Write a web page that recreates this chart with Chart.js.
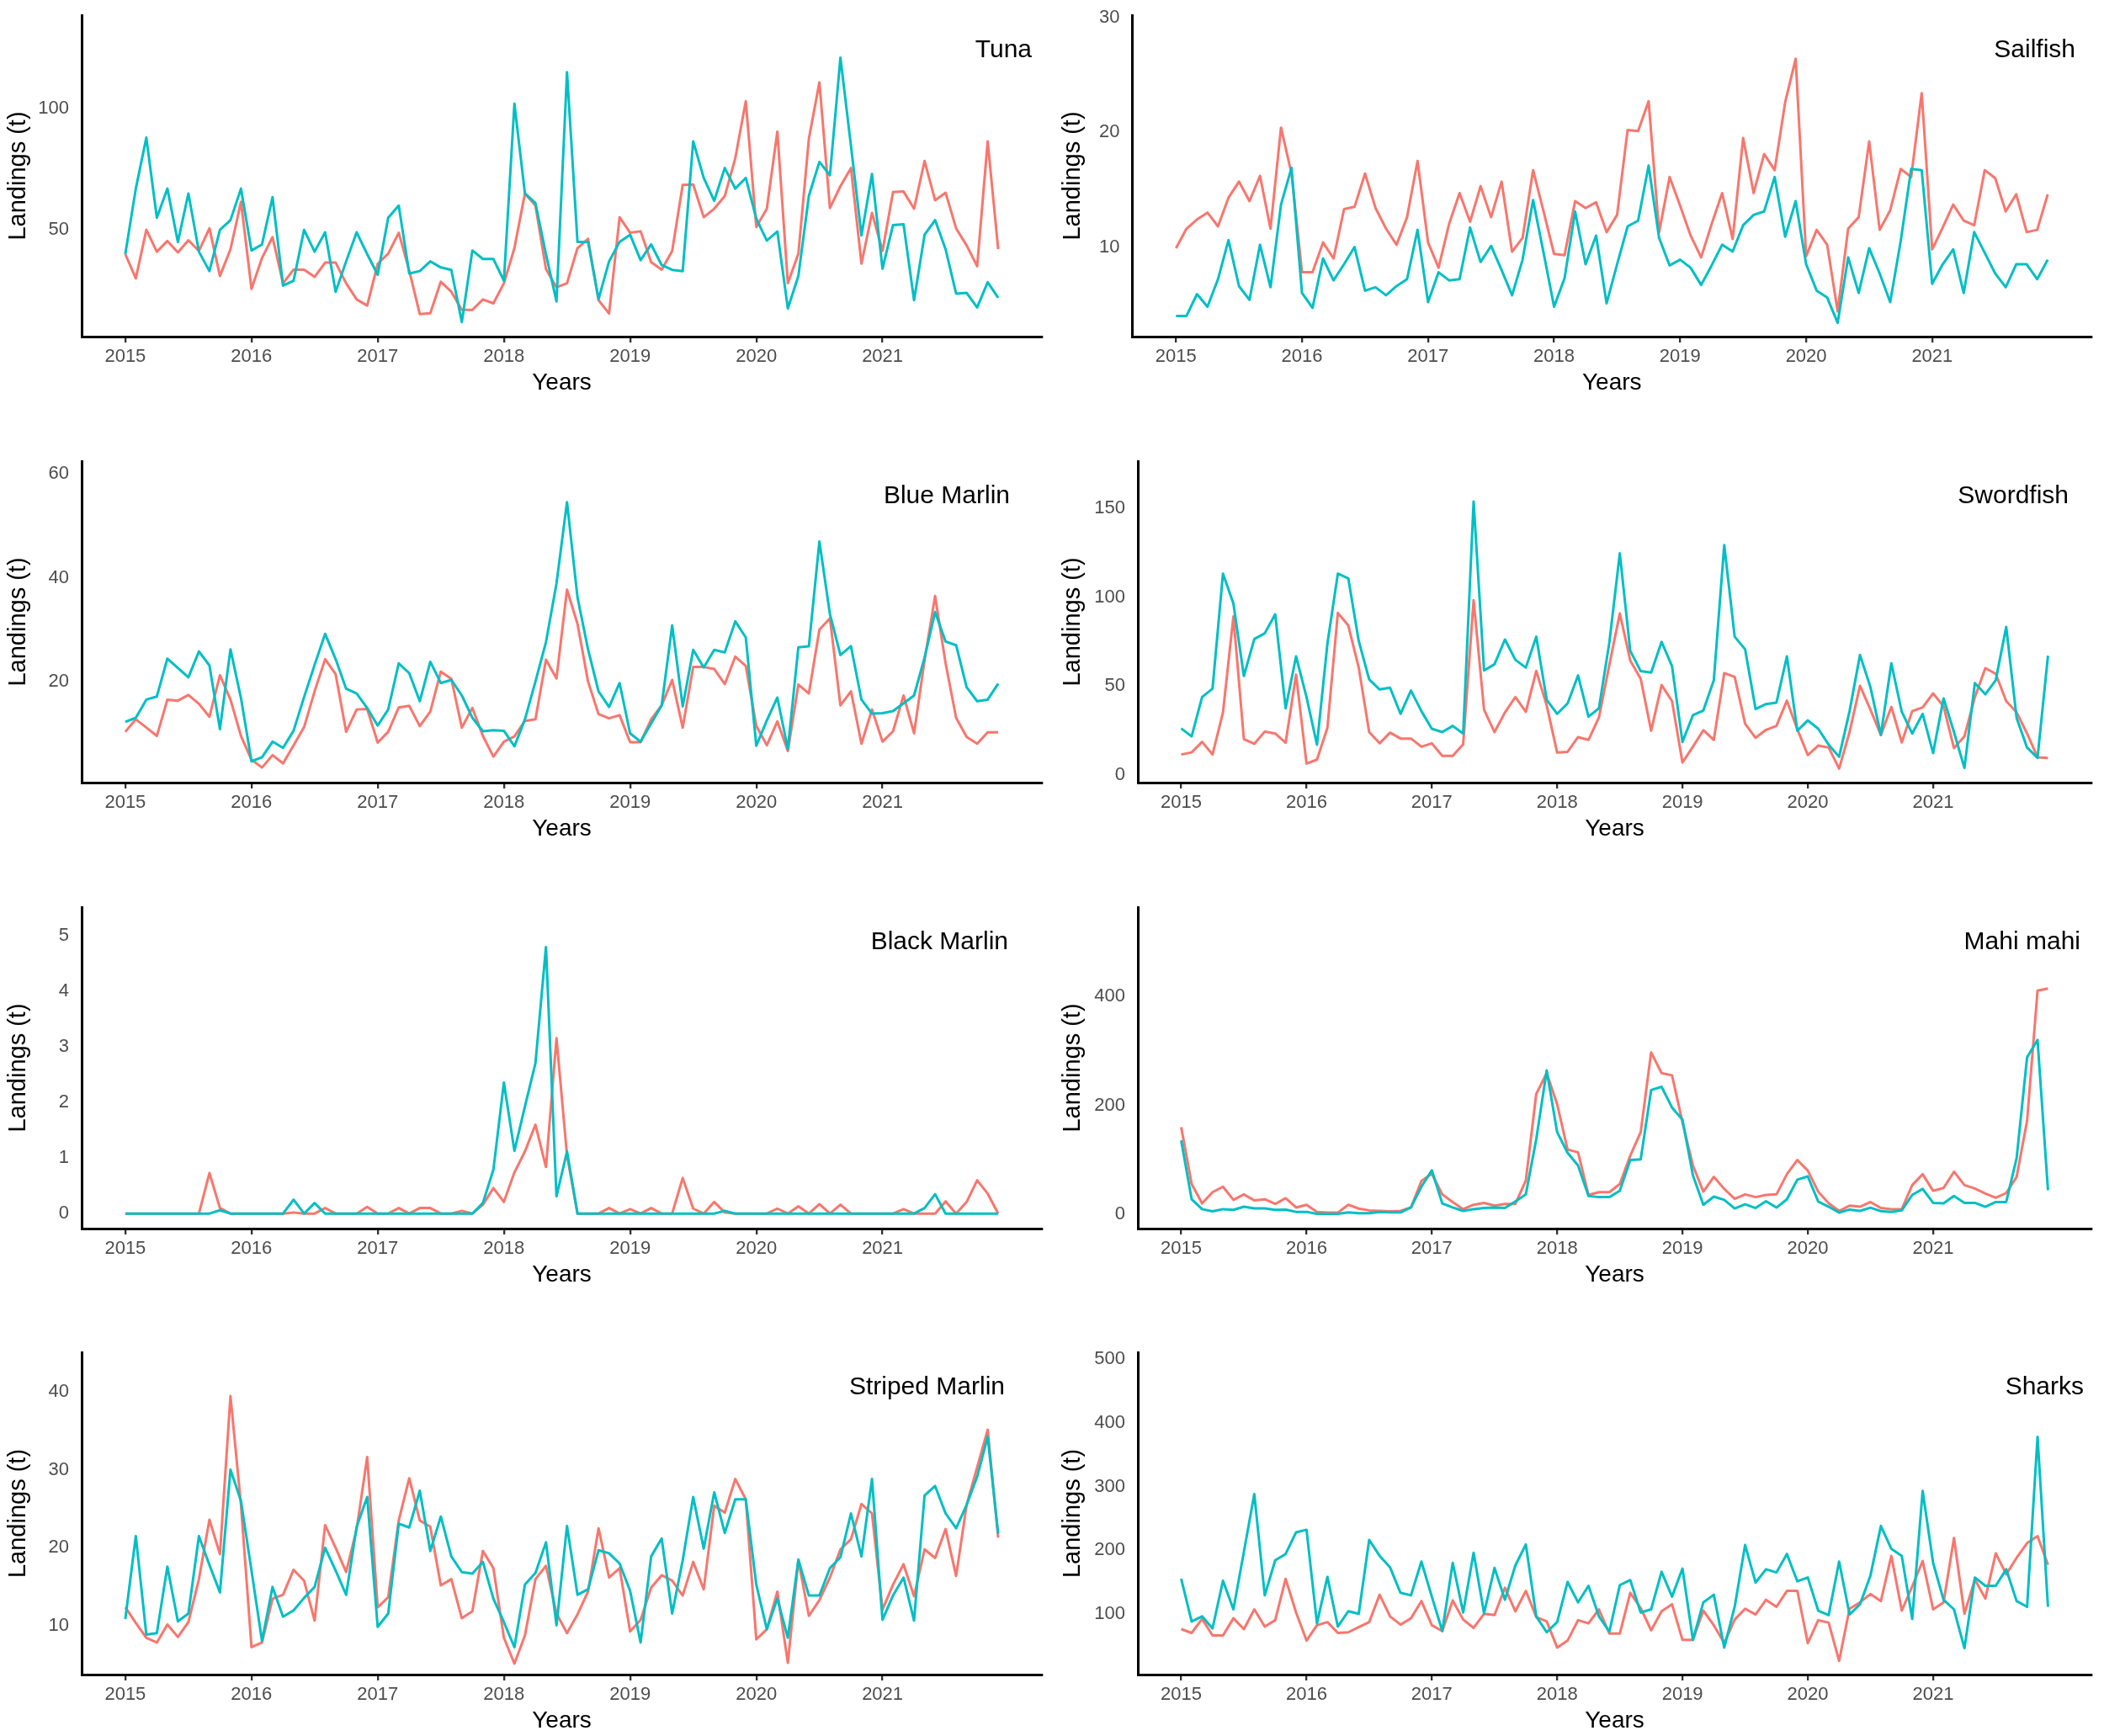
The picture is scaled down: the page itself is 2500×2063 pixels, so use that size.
<!DOCTYPE html>
<html><head><meta charset="utf-8">
<script src="https://cdn.jsdelivr.net/npm/chart.js@4.4.1/dist/chart.umd.min.js"></script>
<style>
html,body{margin:0;padding:0;background:#fff;}
#wrap{position:relative;width:2500px;height:2063px;overflow:hidden;background:#fff;}
canvas{position:absolute;}
</style></head><body><div id="wrap"></div>
<script>
// ---------------- DATA ----------------
const yearTicks = [2015, 2016, 2017, 2018, 2019, 2020, 2021];
const firstYear = 2015;

const tunaTicks = [50, 100];
const tunaRed = [40,30,50,41,45.4,40.7,45.7,41.3,50.6,31,42,61.6, 25.7,38.4,47,28,33.6,33.6,30.6,36.5,36.5,28,21.3,18.8, 36,40.2,48.8,33.2,15.3,15.6,28.6,24.5,17,17,21.3,19.7, 28,42.5,65,60,33.8,26.3,28,42.5,46.3,21,15.5,55.2, 48.8,49.4,36.7,33.6,41.3,68.5,68.7,55.2,58.7,63.9,79.5,103, 51.2,58.7,90.5,28,40.2,87.6,110.8,59,68,75.5,36.1,57, 41.3,65.6,65.8,58.7,78.4,62.2,65.3,50.6,43.6,35,86.5,42];
const tunaTeal = [40,67,88,55,67,45,65,41,33,50,54,67, 41.5,44,63.5,27,29,50,41,49,24.5,37,49,40, 31.5,55,60,32,33,37,34.5,33.5,12,41.5,38,38, 29,102,65,61,40,20.5,115,45,45,21.5,37,45, 48,37.5,44,35.5,33.5,33,86.5,71.4,62,75.5,67,71.4, 54.6,45.6,49.3,17.6,31,64,78,72.5,121,84.7,47.7,73, 34,52,52.3,21,48,54,42,23.7,24,18,28.4,22];

const sailTicks = [10, 20, 30];
const sailRed = [9.9,11.6,12.4,13.0,11.8,14.3,15.7,14.0,16.2,11.6,20.4,16.4, 7.8,7.8,10.4,9.0,13.3,13.5,16.4,13.4,11.6,10.2,12.6,17.5, 10.4,8.2,12.0,14.7,12.2,15.3,12.6,15.7,9.6,10.8,16.7,13.1, 9.4,9.3,14.0,13.4,13.9,11.3,12.8,20.2,20.1,22.7,11.3,16.1, 13.6,11.0,9.1,12.0,14.7,10.7,19.5,14.7,18.1,16.7,22.6,26.4, 9.2,11.5,10.2,4.4,11.6,12.6,19.2,11.5,13.2,16.8,16.1,23.4, 9.8,11.7,13.7,12.3,11.9,16.7,16.0,13.1,14.6,11.3,11.5,14.6];
const sailTeal = [4.0,4.0,5.9,4.8,7.2,10.6,6.6,5.4,10.2,6.5,13.7,16.9, 6.0,4.7,9.0,7.1,8.5,10.0,6.2,6.5,5.8,6.6,7.2,11.5, 5.2,7.8,7.1,7.2,11.7,8.7,10.1,8.0,5.8,8.9,14.1,9.5, 4.8,7.3,13.1,8.5,11.0,5.1,8.5,11.8,12.3,17.1,10.8,8.4, 8.9,8.2,6.7,8.4,10.2,9.6,11.9,12.8,13.1,16.1,10.9,14.0, 8.5,6.2,5.6,3.4,9.1,6.0,9.9,7.7,5.2,10.5,16.8,16.7, 6.8,8.5,9.8,6.0,11.3,9.5,7.7,6.5,8.5,8.5,7.2,8.9];

const blueTicks = [20, 40, 60];
const blueRed = [10.3,12.7,11.1,9.5,16.5,16.3,17.4,15.7,13.2,21.2,16.5,9.5, 4.9,3.4,5.8,4.2,7.7,11.2,18.1,24.3,21.4,10.3,14.6,14.7, 8.2,10.3,15.0,15.3,11.4,14.2,21.9,20.5,11.1,14.9,9.5,5.5, 8.4,9.4,12.4,12.7,24.2,20.6,37.7,31.1,20.0,13.7,12.9,13.5, 8.3,8.3,12.7,15.4,20.3,11.1,22.8,22.8,22.4,19.5,24.8,23.0, 11.4,7.7,12.3,6.6,19.4,17.7,30.0,32.2,15.4,18.1,8.0,14.6, 8.4,10.4,17.3,10.0,24.1,36.5,23.5,13.0,9.3,8.0,10.2,10.2];
const blueTeal = [12.2,13.0,16.5,17.1,24.4,22.6,20.8,25.8,23.1,10.8,26.2,16.8, 4.6,5.4,8.4,7.2,10.5,17.0,23.2,29.2,24.3,18.6,17.7,14.9, 11.5,14.6,23.5,21.6,16.2,23.8,19.7,20.3,17.3,13.0,10.4,10.6, 10.5,7.5,12.7,20.0,27.6,38.9,54.6,36.2,26.2,18.1,15.1,19.7, 10.0,8.4,11.9,15.4,30.8,15.2,26.1,22.7,26.1,25.6,31.6,28.5, 7.6,12.5,16.9,7.0,26.6,26.8,47.0,33.0,25.1,26.8,16.5,13.8, 13.9,14.3,15.8,17.3,24.6,33.4,27.7,27.0,18.9,16.2,16.5,19.6];

const swordTicks = [0, 50, 100, 150];
const swordRed = [11.4,12.6,18.5,11.4,35.1,89.1,20.1,17.4,24.3,23.2,18.0,56.4, 6.3,8.5,26.4,91.1,84.0,60.3,24.0,17.7,23.7,20.4,20.4,15.8, 17.7,10.6,10.6,17.2,98.2,36.6,24.0,35.1,43.7,35.4,58.4,39.0, 12.5,12.9,21.2,19.6,32.2,61.9,90.8,64.3,54.0,24.8,50.5,41.4, 6.9,15.8,25.1,19.6,57.2,55.1,28.7,20.8,25.3,27.5,41.7,25.6, 11.1,16.4,15.3,3.5,24.0,50.1,36.6,22.4,38.2,18.2,35.8,37.9, 45.8,38.5,15.0,21.6,43.7,60.0,56.8,41.4,35.1,23.2,9.8,9.5];
const swordTeal = [26.1,21.6,43.7,48.5,113.2,96.3,55.6,76.4,79.6,90.3,37.4,66.6, 43.7,16.9,73.7,113.2,110.5,75.3,53.7,48.0,49.0,34.3,47.4,35.8, 25.9,24.0,27.5,23.2,153.8,58.7,62.2,76.1,64.7,60.3,77.7,42.2, 34.3,40.1,55.9,32.7,37.4,74.5,124.6,69.8,58.3,57.5,74.8,61.1, 18.5,33.5,36.2,53.2,129.3,77.7,70.6,37.0,39.8,40.6,66.6,24.8, 30.6,25.9,16.9,10.1,35.8,67.4,49.3,22.4,62.7,35.4,23.2,34.3, 12.2,43.0,24.0,3.8,51.6,45.3,53.2,83.2,31.9,15.3,9.5,67.0];

const blackTicks = [0, 1, 2, 3, 4, 5];
const blackRed = [0,0,0,0,0,0,0,0,0.73,0.1,0,0, 0,0,0,0,0.02,0,0,0.1,0,0,0,0.12, 0,0,0.1,0,0.1,0.1,0,0,0.05,0,0.16,0.46, 0.21,0.74,1.12,1.6,0.84,3.16,1.05,0,0,0,0.1,0, 0.08,0,0.1,0,0,0.64,0.09,0,0.21,0.02,0,0, 0,0,0.09,0,0.13,0,0.17,0,0.16,0,0,0, 0,0,0.08,0,0,0,0.22,0,0.21,0.6,0.36,0];
const blackTeal = [0,0,0,0,0,0,0,0,0,0.06,0,0, 0,0,0,0,0.25,0,0.19,0,0,0,0,0, 0,0,0,0,0,0,0,0,0,0,0.19,0.79, 2.36,1.13,1.93,2.71,4.8,0.31,1.12,0,0,0,0,0, 0,0,0,0,0,0,0,0,0,0.05,0,0, 0,0,0,0,0,0,0,0,0,0,0,0, 0,0,0,0,0.1,0.35,0,0,0,0,0,0];

const mahiTicks = [0, 200, 400];
const mahiRed = [160,56,20.5,41,51,27,37,26,28,19.5,30,13, 18,5,3.6,3.6,18,11,7.7,6.7,6,6.7,13,61.5, 75,37,23,10,18,21.5,16.4,19.5,19.5,62.5,221,259, 202,119,114,36,41,41,56,108,151,297,259,255, 169,90,42,69,47,29,37,32,36,37,74,100, 80.5,42,20.5,6.7,16.4,14.4,23,12,10,10,54,74, 43.6,48.7,78.5,54,47.7,38.5,30.8,39.5,69,172,410,414];
const mahiTeal = [136,28,10,6,10,8.7,14.4,11.3,11.3,8.7,9.2,5, 5,1.5,1.5,1.5,4,2.5,2.5,5,4,4,13,51, 81,20.5,13,6.7,10,12,13,12,24,37,138,264, 151,113,90,34,32,32,43.6,100,101,228,234,196, 174,72,18,33,27,11.3,19,12,24.6,12.8,28,64, 70,24,14.4,3.6,9.2,6.7,12.8,6.2,5,7.7,36,47, 21.5,20.5,34,21.5,21.5,14.4,23,23,103.5,288,320,44.6];

const stripedTicks = [10, 20, 30, 40];
const stripedRed = [12.4,10.4,8.5,7.9,10.2,8.6,10.5,16.0,23.6,19.2,39.4,25.5, 7.3,7.9,13.5,14.0,17.2,15.8,10.7,22.9,20.0,16.9,22.4,31.6, 12.4,13.7,23.5,28.9,23.5,22.7,15.2,16.0,11.0,11.9,19.6,17.4, 8.5,5.2,8.8,16.0,17.7,11.6,9.1,11.5,14.4,22.5,16.2,17.4, 9.3,10.8,14.9,16.5,15.8,13.9,18.2,14.7,25.4,24.5,28.8,26.2, 8.3,9.6,14.4,5.3,18.4,11.3,13.3,16.2,19.8,21.1,25.6,24.4, 12.1,15.3,17.9,13.8,19.8,18.7,22.4,16.4,25.5,30.3,35.1,21.3];
const stripedTeal = [10.9,21.5,8.9,9.1,17.6,10.6,11.6,21.5,17.8,14.3,30.0,26.0, 17.1,8.1,15.0,11.2,12.0,13.6,15.0,20.0,17.1,14.0,22.7,26.5, 9.9,11.6,23.1,22.6,27.3,19.6,24.0,18.9,16.9,16.7,18.2,13.5, 10.5,7.3,15.3,16.8,20.7,10.1,22.8,14.0,14.7,19.7,19.3,18.0, 14.5,7.9,18.9,21.2,11.6,18.4,26.5,19.9,27.1,21.9,26.2,26.2, 15.3,9.6,13.5,8.5,18.5,13.9,13.9,17.4,18.8,24.4,18.9,28.8, 10.8,13.9,16.2,10.7,26.7,27.9,24.4,22.5,25.5,29.1,34.2,21.8];

const sharkTicks = [100, 200, 300, 400, 500];
const sharkRed = [76,70,92,66,66,93,76,107,80,90,155,102, 58,82,87,70,71,79,87,130,96,83,93,120, 82,73,121,91,78,100,98,141,104,136,95,88, 47,58,90,85,107,69,69,133,109,74,104,115, 59,59,105,82,54,91,108,99,122,111,136,136, 54,90,86,26,108,118,131,120,191,105,143,183, 107,118,219,100,154,124,195,162,188,211,222,177];
const sharkTeal = [155,88,96,77,152,107,197,288,129,184,194,228, 232,85,158,80,104,100,216,191,173,133,129,182, 127,73,180,102,196,101,172,122,176,209,96,71, 87,150,118,144,96,72,145,153,102,107,166,127, 171,59,118,130,47,111,208,149,170,165,194,151, 157,105,98,182,99,115,160,238,202,191,92,293, 180,122,107,46,157,144,144,170,120,111,378,111];

// ---------------- PANELS (what goes where) ----------------
const panels = [
  {title:'Tuna',          red:tunaRed,    teal:tunaTeal,    ticks:tunaTicks,    min:6,     max:138.5},
  {title:'Sailfish',      red:sailRed,    teal:sailTeal,    ticks:sailTicks,    min:2.2,   max:30.2},
  {title:'Blue Marlin',   red:blueRed,    teal:blueTeal,    ticks:blueTicks,    min:0.5,   max:62.5},
  {title:'Swordfish',     red:swordRed,   teal:swordTeal,   ticks:swordTicks,   min:-4.4,  max:176.5},
  {title:'Black Marlin',  red:blackRed,   teal:blackTeal,   ticks:blackTicks,   min:-0.27, max:5.52},
  {title:'Mahi mahi',     red:mahiRed,    teal:mahiTeal,    ticks:mahiTicks,    min:-25.6, max:563},
  {title:'Striped Marlin',red:stripedRed, teal:stripedTeal, ticks:stripedTicks, min:3.8,   max:45},
  {title:'Sharks',        red:sharkRed,   teal:sharkTeal,   ticks:sharkTicks,   min:4.6,   max:510.7}
];

// layout (pixels, relative to each panel canvas)
const boxes = [
  {left:0,    top:0,    h:530, axisLeft:97,   axisRight:1238, plotTop:18, titleRight:1226, titleBase:68, yTitleX:22},
  {left:1250, top:0,    h:530, axisLeft:95.5, axisRight:1235, plotTop:18, titleRight:1216, titleBase:68, yTitleX:25},
  {left:0,    top:530,  h:530, axisLeft:97,   axisRight:1238, plotTop:18, titleRight:1200, titleBase:68, yTitleX:22},
  {left:1250, top:530,  h:530, axisLeft:102,  axisRight:1235, plotTop:18, titleRight:1208, titleBase:68, yTitleX:25},
  {left:0,    top:1060, h:530, axisLeft:97,   axisRight:1238, plotTop:18, titleRight:1198, titleBase:68, yTitleX:22},
  {left:1250, top:1060, h:530, axisLeft:102,  axisRight:1235, plotTop:18, titleRight:1222, titleBase:68, yTitleX:25},
  {left:0,    top:1590, h:473, axisLeft:97,   axisRight:1238, plotTop:17, titleRight:1194, titleBase:67, yTitleX:22},
  {left:1250, top:1590, h:473, axisLeft:102,  axisRight:1235, plotTop:17, titleRight:1226, titleBase:67, yTitleX:25}
];
const PLOT_BOTTOM = 400, XTITLE_Y = 455;
const RED = '#F8766D', TEAL = '#00BFC4';
const FONT = '"Liberation Sans", Arial, Helvetica, sans-serif';

Chart.defaults.font.family = FONT;

function toPoints(vals) {
  return vals.map((v, i) => ({x: firstYear + i / 12, y: v}));
}

const panelTitle = {
  id: 'panelTitle',
  afterDraw(chart, args, opts) {
    const ctx = chart.ctx;
    ctx.save();
    ctx.font = '30px ' + FONT;
    ctx.fillStyle = '#000';
    ctx.textAlign = 'right';
    ctx.textBaseline = 'alphabetic';
    ctx.fillText(opts.text, opts.x, opts.y);
    ctx.restore();
  }
};

const wrap = document.getElementById('wrap');
panels.forEach((p, k) => {
  const b = boxes[k];
  const cv = document.createElement('canvas');
  cv.width = 1250; cv.height = b.h;
  cv.style.left = b.left + 'px'; cv.style.top = b.top + 'px';
  cv.style.width = '1250px'; cv.style.height = b.h + 'px';
  wrap.appendChild(cv);
  const yTitleLH = 29 * 1.2, xTitleLH = 28 * 1.2;
  new Chart(cv.getContext('2d'), {
    type: 'line',
    data: {
      datasets: [
        {data: toPoints(p.red),  borderColor: RED,  borderWidth: 3, pointRadius: 0, tension: 0, order: 1, borderJoinStyle: 'round', fill: false},
        {data: toPoints(p.teal), borderColor: TEAL, borderWidth: 3, pointRadius: 0, tension: 0, order: 0, borderJoinStyle: 'round', fill: false}
      ]
    },
    plugins: [panelTitle],
    options: {
      responsive: false,
      devicePixelRatio: 1,
      animation: false,
      events: [],
      layout: {padding: {left: 0, right: 1250 - b.axisRight, top: b.plotTop, bottom: 0}},
      plugins: {
        legend: {display: false},
        tooltip: {enabled: false},
        panelTitle: {text: p.title, x: b.titleRight, y: b.titleBase}
      },
      scales: {
        x: {
          type: 'linear',
          min: 2014.654, max: 2022.263,
          afterBuildTicks: (ax) => { ax.ticks = yearTicks.map(v => ({value: v})); },
          afterFit: (ax) => { ax.height = b.h - PLOT_BOTTOM; },
          ticks: {callback: (v) => String(v), color: '#4D4D4D', font: {size: 22}, padding: 4, autoSkip: false, maxRotation: 0},
          grid: {display: true, drawOnChartArea: false, drawTicks: true, tickLength: 7, color: '#333333', lineWidth: 2.3},
          border: {display: true, color: '#000000', width: 3},
          title: {display: true, text: 'Years', color: '#000', font: {size: 28, lineHeight: 1.2},
                  padding: {top: 0, bottom: b.h - XTITLE_Y - xTitleLH / 2}}
        },
        y: {
          type: 'linear',
          min: p.min, max: p.max,
          afterBuildTicks: (ax) => { ax.ticks = p.ticks.map(v => ({value: v})); },
          afterFit: (ax) => { ax.width = b.axisLeft; },
          ticks: {callback: (v) => String(v), color: '#4D4D4D', font: {size: 22}, padding: 0},
          grid: {display: true, drawOnChartArea: false, drawTicks: true, tickLength: 15, color: 'rgba(0,0,0,0)'},
          border: {display: true, color: '#000000', width: 3},
          title: {display: true, text: 'Landings (t)', color: '#000', font: {size: 29, lineHeight: 1.2},
                  padding: {top: b.yTitleX - yTitleLH / 2, bottom: 0}}
        }
      }
    }
  });
});
</script>
</body></html>
